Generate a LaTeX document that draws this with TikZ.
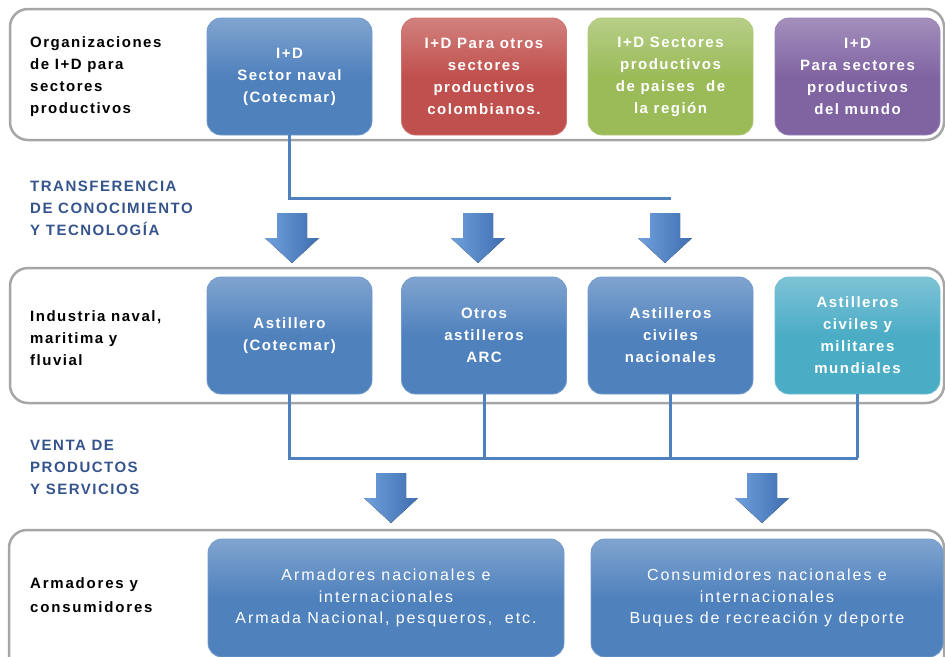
\documentclass[tikz,border=0pt]{standalone}
\usepackage{fontspec}
\usepackage{tikz}
\usetikzlibrary{positioning, calc}
\setmainfont{Liberation Sans}
\newfontfamily\wide[LetterSpace=10]{Liberation Sans}
\newfontfamily\wider[LetterSpace=12]{Liberation Sans}
\definecolor{boxblue}{RGB}{79,129,189}
\definecolor{boxred}{RGB}{192,80,77}
\definecolor{boxgreen}{RGB}{155,187,89}
\definecolor{boxpurple}{RGB}{128,100,162}
\definecolor{boxteal}{RGB}{75,172,198}
\definecolor{bandgray}{RGB}{166,166,166}
\definecolor{labelblue}{RGB}{54,84,140}
\definecolor{arrowlight}{RGB}{112,160,220}
\definecolor{arrowdark}{RGB}{62,110,175}

\newcommand{\blockarrow}[1]{%
  \fill[left color=arrowlight, right color=arrowdark]
    (#1) ++(-15,0) -- ++(30,0) -- ++(0,25) -- ++(12,0) -- ++(-27,25)
    -- ++(-27,-25) -- ++(12,0) -- cycle;}

\begin{document}
\begin{tikzpicture}[x=1pt, y=-1pt,
  band/.style={draw=bandgray, line width=2.5pt, rounded corners=18pt},
  tile/.style={rounded corners=14pt, minimum width=165pt, minimum height=117pt,
    inner sep=0pt, align=center, text=white, draw=#1!80!white, line width=0.8pt,
    top color=#1!72!white, bottom color=#1, middle color=#1,
    font=\wide\bfseries\fontsize{15}{22}\selectfont},
  widetile/.style={tile=boxblue, minimum height=118pt,
    font=\wider\fontsize{16}{21.5}\selectfont},
  rowlabel/.style={anchor=west, align=left, inner sep=0pt,
    font=\wide\bfseries\fontsize{15}{22}\selectfont},
  steplabel/.style={rowlabel, text=labelblue},
  link/.style={draw=boxblue, line width=3pt}]
  \useasboundingbox (0,0) rectangle (945,656);
  \clip (0,0) rectangle (945,656);

  \draw[band] (10,9) rectangle (944,140);
  \draw[band] (10,268) rectangle (944,403);
  \draw[band] (9,530) rectangle (944,680);

  \node[rowlabel] (org) at (30,77) {Organizaciones\\de I+D para\\sectores\\productivos};
  \node[tile=boxblue] (id1) at (289.5,76.5) {I+D\\Sector naval\\(Cotecmar)};
  \node[tile=boxred] (id2) at (484,76.5) {I+D Para otros\\sectores\\productivos\\colombianos.};
  \node[tile=boxgreen] (id3) at (670.5,76.5) {I+D Sectores\\productivos\\de paises\ \ de\\la región};
  \node[tile=boxpurple] (id4) at (857.5,76.5) {I+D\\Para sectores\\productivos\\del mundo};

  \node[steplabel] (transf) at (30,208) {TRANSFERENCIA\\DE CONOCIMIENTO\\Y TECNOLOGÍA};
  \coordinate (bus1) at (0,198);
  \draw[link] (id1.south) |- (bus1 -| id3.south);
  \coordinate (t1) at (292,213);
  \coordinate (t2) at (478,213);
  \coordinate (t3) at (665,213);
  \blockarrow{t1} \blockarrow{t2} \blockarrow{t3}

  \node[rowlabel] (ind) at (30,338) {Industria naval,\\maritima y\\fluvial};
  \node[tile=boxblue] (as1) at (289.5,335.5) {Astillero\\(Cotecmar)};
  \node[tile=boxblue] (as2) at (484,335.5) {Otros\\astilleros\\ARC};
  \node[tile=boxblue] (as3) at (670.5,335.5) {Astilleros\\civiles\\nacionales};
  \node[tile=boxteal] (as4) at (857.5,335.5) {Astilleros\\civiles y\\militares\\mundiales};

  \node[steplabel] (venta) at (30,467) {VENTA DE\\PRODUCTOS\\Y SERVICIOS};
  \coordinate (bus2) at (0,458);
  \draw[link] (as1.south) |- (bus2 -| as4.south);
  \foreach \i in {2,3,4}
    \draw[link] (as\i.south) -- (bus2 -| as\i.south);
  \coordinate (v1) at (391,473);
  \coordinate (v2) at (762,473);
  \blockarrow{v1} \blockarrow{v2}

  \node[rowlabel, font=\wider\bfseries\fontsize{15}{24}\selectfont] (arm) at (30,595) {Armadores y\\consumidores};
  \node[widetile, minimum width=356pt] (cl1) at (386,598) {Armadores nacionales e\\internacionales\\Armada Nacional, pesqueros,\ \ etc.};
  \node[widetile, minimum width=352pt] (cl2) at (767,598) {Consumidores nacionales e\\internacionales\\Buques de recreación y deporte};
\end{tikzpicture}
\end{document}
